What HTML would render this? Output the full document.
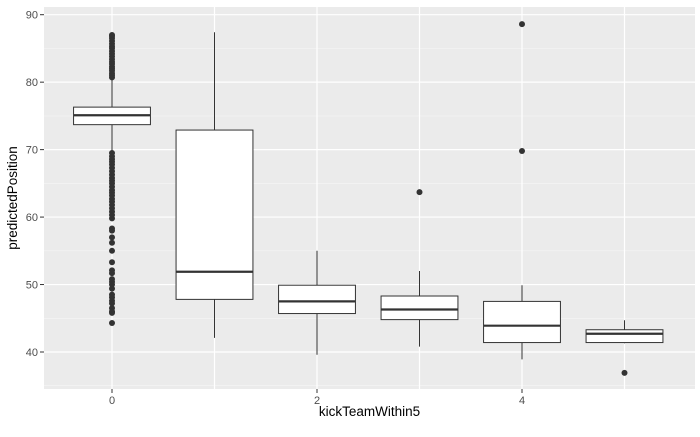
<!DOCTYPE html>
<html><head><meta charset="utf-8"><style>
body{margin:0;background:#fff}
svg text{font-family:"Liberation Sans",Arial,sans-serif}
</style></head><body>
<svg id="chart" width="700" height="432" xmlns="http://www.w3.org/2000/svg">
<rect x="44" y="7" width="651" height="382" fill="#ebebeb"/>
<g id="grid"></g><g id="marks"></g><g id="axes"></g>
<text x="369.5" y="416" font-size="13.5" text-anchor="middle" fill="#000">kickTeamWithin5</text>
<text transform="translate(17,198) rotate(-90)" font-size="13.5" text-anchor="middle" fill="#000">predictedPosition</text>
</svg>
<script>
const categories=[0,1,2,3,4,5];
const lowerWhisker=[69.6,42.1,39.6,40.8,38.9,41.3];
const q1=[73.7,47.8,45.7,44.8,41.4,41.4];
const medians=[75.1,51.9,47.5,46.3,43.9,42.7];
const q3=[76.3,72.9,49.9,48.3,47.5,43.3];
const upperWhisker=[80.6,87.4,55.0,52.0,49.9,44.7];
const outliers0=[80.7,81,81.3,81.7,82,82.3,82.7,83,83.4,83.8,84.2,84.6,85,85.3,85.7,86.1,86.5,86.8,87,
69.5,69,68.6,68.2,67.8,67.3,66.8,66.3,65.8,65.4,65,64.5,64,63.6,63.2,62.7,62.3,61.8,61.3,60.8,60.3,59.8,58.3,58,57,56.2,55,53.3,52.1,51.7,50.8,50.4,50,49.4,48.5,48.1,47.6,47.2,46.5,46,45.8,44.3];
const outliers1=[];
const outliers2=[];
const outliers3=[63.7];
const outliers4=[88.6,69.8];
const outliers5=[36.9];
const outliersByGroup=[outliers0,outliers1,outliers2,outliers3,outliers4,outliers5];
const yTicks=[40,50,60,70,80,90];
const xTicks=[0,2,4];
const NS="http://www.w3.org/2000/svg";
const X=v=>112+v*102.5;
const Y=v=>352-(v-40)*6.746;
function mk(p,tag,a){const e=document.createElementNS(NS,tag);for(const k in a)e.setAttribute(k,a[k]);p.appendChild(e);return e;}
const grid=document.getElementById('grid'),marks=document.getElementById('marks'),axes=document.getElementById('axes');
for(let v=35;v<=85;v+=10){const l=mk(grid,'line',{x1:44,x2:695,y1:Y(v),y2:Y(v),stroke:'#f5f5f5','stroke-width':0.6});

}
[1,3,5].forEach(v=>{const l=mk(grid,'line',{x1:X(v),x2:X(v),y1:7,y2:389,stroke:'#f5f5f5','stroke-width':0.6});

});
yTicks.forEach(v=>{const l=mk(grid,'line',{x1:44,x2:695,y1:Y(v),y2:Y(v),stroke:'#fff','stroke-width':1.2});


const t=mk(axes,'line',{x1:40,x2:44,y1:Y(v),y2:Y(v),stroke:'#333','stroke-width':1});


const tx=mk(axes,'text',{x:38,y:Y(v)+4,'font-size':11,'text-anchor':'end',fill:'#4d4d4d'});tx.textContent=v;

});
xTicks.forEach(v=>{const t=mk(axes,'line',{x1:X(v),x2:X(v),y1:389,y2:393,stroke:'#333','stroke-width':1});


const tx=mk(axes,'text',{x:X(v),y:404,'font-size':11,'text-anchor':'middle',fill:'#4d4d4d'});tx.textContent=v;

});
categories.forEach(v=>{const l=mk(grid,'line',{x1:X(v),x2:X(v),y1:7,y2:389,stroke:'#fff','stroke-width':1.2});

});
categories.forEach((c,i)=>{const g=mk(marks,'g',{});


const x=X(c),hw=0.375*102.5;
mk(g,'line',{x1:x,x2:x,y1:Y(upperWhisker[i]),y2:Y(q3[i]),stroke:'#333','stroke-width':1});
mk(g,'line',{x1:x,x2:x,y1:Y(q1[i]),y2:Y(lowerWhisker[i]),stroke:'#333','stroke-width':1});
mk(g,'rect',{x:x-hw,y:Y(q3[i]),width:2*hw,height:Y(q1[i])-Y(q3[i]),fill:'#fff',stroke:'#333','stroke-width':1});
mk(g,'line',{x1:x-hw,x2:x+hw,y1:Y(medians[i]),y2:Y(medians[i]),stroke:'#333','stroke-width':2.2});
outliersByGroup[i].forEach(v=>{const p=mk(marks,'circle',{cx:x,cy:Y(v),r:3,fill:'#333'});

});});
</script>
</body></html>
